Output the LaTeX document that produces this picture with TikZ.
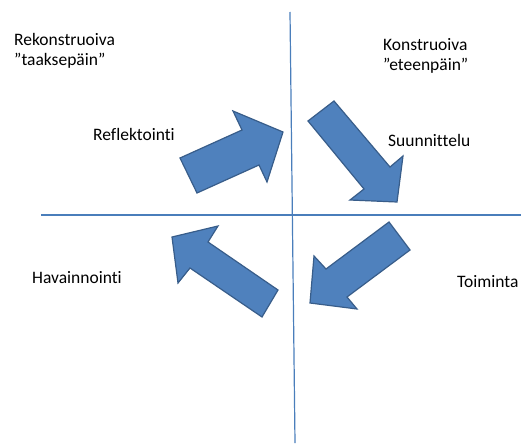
\documentclass[tikz,border=0pt]{standalone}
\usepackage{fontspec}
\setmainfont{Carlito}[Ligatures={NoCommon,NoContextual}]
\usepackage{xcolor}
\usepackage{tikz}
\usetikzlibrary{calc}
\definecolor{axisblue}{HTML}{4A7EBB}
\definecolor{arrowfill}{HTML}{4F81BD}
\definecolor{arrowedge}{HTML}{385D8A}

\begin{document}
\begin{tikzpicture}[x=1pt,y=-1pt,font=\fontsize{17.5}{20}\selectfont,
    axis/.style={draw=axisblue,line width=1.2pt},
    bigarrow/.style={fill=arrowfill,draw=arrowedge,line width=1.2pt,line join=miter},
    lbl/.style={inner sep=0pt,anchor=base west,align=left}]
  \useasboundingbox (0,0) rectangle (521,444);

  % Axes
  \coordinate (Vtop) at (290,12);
  \coordinate (Vbot) at (295,443);
  \coordinate (Hleft) at (41,215);
  \coordinate (Hright) at (521,215);
  \draw [axis] (Vtop) -- (Vbot);
  \draw [axis] (Hleft) -- (Hright);

  % Quadrant labels
  \node (Rek) at (14,33) [lbl,anchor=north west] {Rekonstruoiva\\”taaksepäin”};
  \node (Kon) at (383,38) [lbl,anchor=north west] {Konstruoiva\\”eteenpäin”};
  \node (Refl) at (93,140) [lbl] {Reflektointi};
  \node (Suun) at (388,146) [lbl] {Suunnittelu};
  \node (Toim) at (457,287) [lbl] {Toiminta};
  \node (Hav) at (32,283) [lbl] {Havainnointi};

  % Block arrows (clockwise)
  \draw [bigarrow] (180,158) -- (242,130) -- (233,111) -- (283,132)
      -- (267,182) -- (259,165) -- (197,193) -- cycle;
  \draw [bigarrow] (308,121) -- (334,101) -- (390,167) -- (403,156)
      -- (397,202) -- (350,200) -- (364,189) -- cycle;
  \draw [bigarrow] (389,222) -- (410,250) -- (347,297) -- (357,309)
      -- (310,303) -- (314,256) -- (326,269) -- cycle;
  \draw [bigarrow] (172,237) -- (218,226) -- (208,242) -- (278,290)
      -- (262,317) -- (190,268) -- (178,283) -- cycle;
\end{tikzpicture}
\end{document}
